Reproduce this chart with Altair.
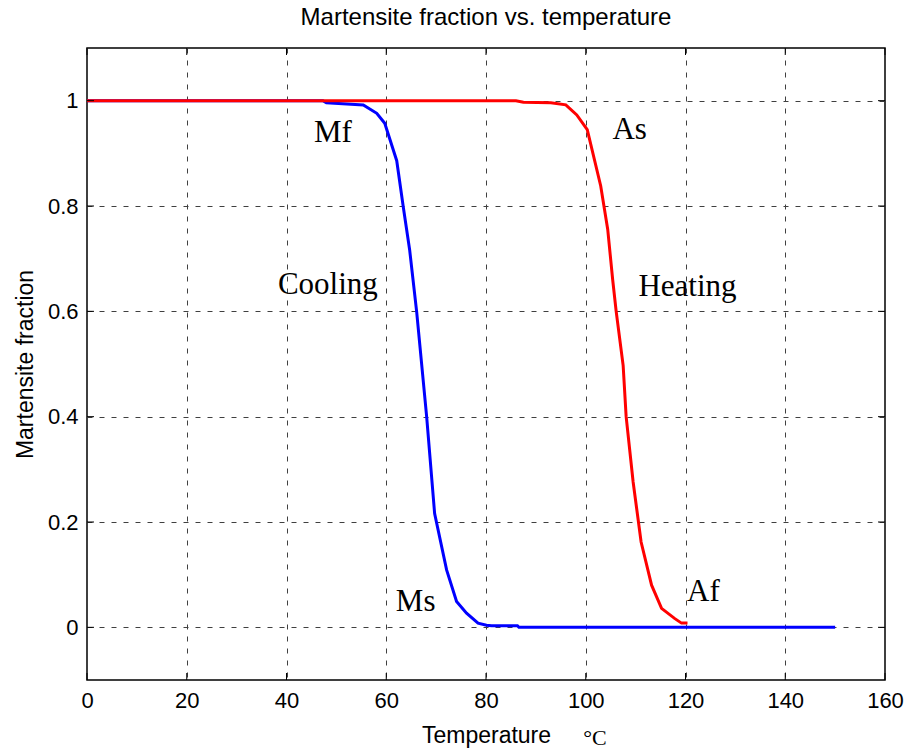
import altair as alt
import pandas as pd

# Cooling curve (blue)
cool_t = [0, 47.3, 48.0, 55.4, 58.1, 59.7, 62.1, 63.4, 64.7, 66.1, 68.1, 69.7, 72.1, 74.1, 76.1, 78.4, 80.1, 81.1, 86.3, 86.6, 150]
cool_f = [1, 1, 0.996, 0.992, 0.976, 0.957, 0.886, 0.799, 0.716, 0.599, 0.400, 0.216, 0.109, 0.049, 0.027, 0.008, 0.004, 0.003, 0.003, 0.0, 0.0]

# Heating curve (red)
heat_t = [0, 86.0, 87.5, 93.0, 96.0, 98.2, 100.3, 103.0, 104.4, 105.4, 106.1, 107.5, 108.1, 109.5, 111.1, 113.2, 115.2, 117.8, 119.2, 120.4]
heat_f = [1, 1, 0.997, 0.996, 0.992, 0.973, 0.945, 0.838, 0.756, 0.660, 0.600, 0.497, 0.400, 0.276, 0.162, 0.080, 0.036, 0.017, 0.008, 0.008]

# Annotations
ann_text = ["Mf", "Cooling", "Ms", "As", "Heating", "Af"]
ann_x = [49.3, 48.3, 65.9, 108.8, 120.4, 123.6]
ann_y = [0.938, 0.650, 0.048, 0.944, 0.646, 0.067]

x_ticks = [0, 20, 40, 60, 80, 100, 120, 140, 160]
y_ticks = [0, 0.2, 0.4, 0.6, 0.8, 1]

W, H = 798, 632

cool = pd.DataFrame({"t": cool_t, "f": cool_f, "i": range(len(cool_t))})
heat = pd.DataFrame({"t": heat_t, "f": heat_f, "i": range(len(heat_t))})
ann = pd.DataFrame({"label": ann_text, "t": ann_x, "f": ann_y})
xt = pd.DataFrame({"t": x_ticks})
yt = pd.DataFrame({"f": y_ticks})

xscale = alt.Scale(domain=[0, 160], nice=False, zero=False)
yscale = alt.Scale(domain=[-0.1, 1.1], nice=False, zero=False)

xaxis = alt.Axis(values=x_ticks, title="Temperature", grid=True, tickSize=0,
                 labelPadding=10, titlePadding=13, format="d",
                 labelFlush=False, labelOverlap=False)
yaxis = alt.Axis(values=y_ticks, title="Martensite fraction", grid=True, tickSize=0,
                 labelPadding=9, titlePadding=10, format="~r",
                 labelFlush=False, labelOverlap=False)

blue = alt.Chart(cool).mark_line(color="#0000FF", strokeWidth=3).encode(
    x=alt.X("t:Q", scale=xscale, axis=xaxis),
    y=alt.Y("f:Q", scale=yscale, axis=yaxis),
    order="i:Q",
)
red = alt.Chart(heat).mark_line(color="#FF0000", strokeWidth=3).encode(
    x=alt.X("t:Q", scale=xscale),
    y=alt.Y("f:Q", scale=yscale),
    order="i:Q",
)

labels = alt.Chart(ann).mark_text(font="Liberation Serif", fontSize=31, color="black",
                                  baseline="middle", align="center").encode(
    x=alt.X("t:Q", scale=xscale),
    y=alt.Y("f:Q", scale=yscale),
    text="label:N",
)

unit = alt.Chart(pd.DataFrame({"u": ["°C"]})).mark_text(
    font="Liberation Serif", fontSize=22, color="black", align="center", baseline="middle"
).encode(x=alt.value(508), y=alt.value(690), text="u:N")

tick_bottom = alt.Chart(xt).mark_rule(color="black", strokeWidth=1).encode(
    x=alt.X("t:Q", scale=xscale), y=alt.value(H), y2=alt.value(H - 7))
tick_top = alt.Chart(xt).mark_rule(color="black", strokeWidth=1).encode(
    x=alt.X("t:Q", scale=xscale), y=alt.value(0), y2=alt.value(7))
tick_left = alt.Chart(yt).mark_rule(color="black", strokeWidth=1).encode(
    y=alt.Y("f:Q", scale=yscale), x=alt.value(0), x2=alt.value(7))
tick_right = alt.Chart(yt).mark_rule(color="black", strokeWidth=1).encode(
    y=alt.Y("f:Q", scale=yscale), x=alt.value(W), x2=alt.value(W - 7))

chart = alt.layer(
    blue, red, labels, unit, tick_bottom, tick_top, tick_left, tick_right
).properties(
    width=W,
    height=H,
    background="white",
    title=alt.Title("Martensite fraction vs. temperature", font="Liberation Sans",
                    fontSize=24, fontWeight="normal", color="black", offset=18, anchor="middle"),
    autosize=alt.AutoSizeParams(type="none"),
    padding={"left": 87, "top": 48, "right": 24, "bottom": 69},
).configure_view(
    stroke="black", strokeWidth=1.5
).configure_axis(
    labelFont="Liberation Sans", labelFontSize=22, labelColor="black",
    titleFont="Liberation Sans", titleFontSize=23, titleFontWeight="normal", titleColor="black",
    domain=False, gridColor="#404040", gridDash=[5, 7], gridWidth=1, gridOpacity=1,
)

chart.save("out.html", embed_options={"renderer": "svg", "actions": False})
